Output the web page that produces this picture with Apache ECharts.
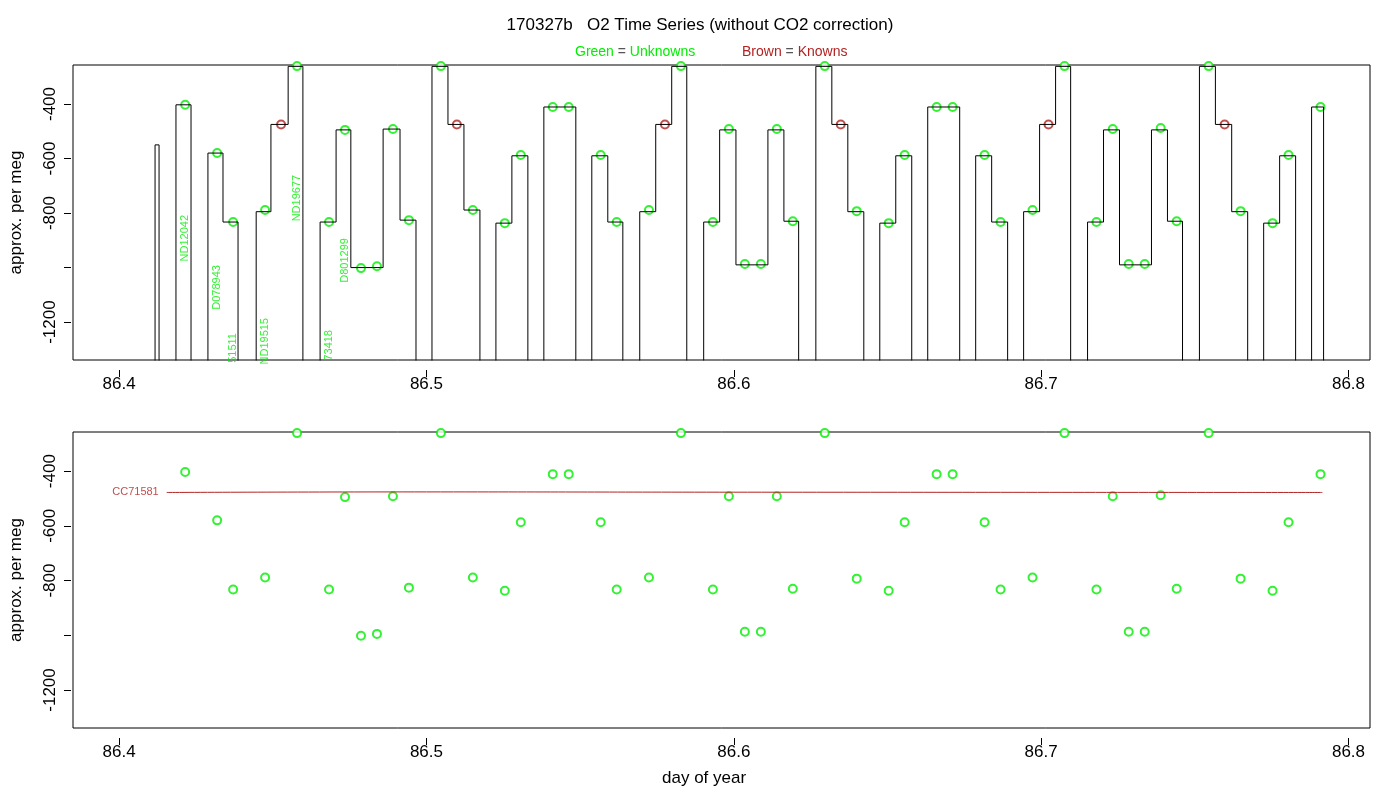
<!DOCTYPE html>
<html><head><meta charset="utf-8">
<script src="https://cdn.jsdelivr.net/npm/echarts@6/dist/echarts.min.js"></script>
<style>html,body{margin:0;background:#fff}#c{width:1400px;height:800px}</style>
</head><body><div id="c"></div>
<script>
// Trace runs: boundary times and plateau levels
const runTimes = [
 [86.4117,86.4130],[86.4185,86.4234],[86.4289,86.4338,86.4387],
 [86.4446,86.4494,86.4550,86.4598],
 [86.4654,86.4706,86.4754,86.4859,86.4914,86.4966],
 [86.5018,86.5070,86.5122,86.5174],[86.5226,86.5278,86.5330],[86.5382,86.5486],
 [86.5538,86.5590,86.5639],[86.5694,86.5746,86.5798,86.5847],
 [86.5902,86.5954,86.6007,86.6111,86.6163,86.6211],
 [86.6267,86.6319,86.6371,86.6423],[86.6475,86.6527,86.6579],[86.6631,86.6735],
 [86.6787,86.6839,86.6891],[86.6943,86.6995,86.7047,86.7096],
 [86.7151,86.7203,86.7255,86.7359,86.7411,86.7460],
 [86.7515,86.7567,86.7620,86.7672],[86.7724,86.7776,86.7828],[86.7880,86.7919]
];
const runLevels = [
 [-550],[-403],[-580,-833],[-795,-475,-262],[-833,-495,-1000,-492,-826],
 [-262,-475,-789],[-837,-590],[-411],[-590,-833],[-795,-475,-262],
 [-833,-495,-990,-495,-830],[-262,-475,-795],[-837,-590],[-411],[-590,-833],
 [-795,-475,-262],[-833,-495,-990,-495,-830],[-262,-475,-795],[-837,-590],[-411]
];
// Unknown sample results
const unkX = [86.4215,86.4319,86.4371,86.4475,86.4579,86.4683,86.4735,86.4787,86.4839,86.4891,86.4943,
 86.5047,86.5151,86.5255,86.5307,86.5411,86.5463,86.5567,86.5619,86.5724,86.5828,86.5932,86.5984,86.6036,
 86.6088,86.6140,86.6192,86.6296,86.6400,86.6504,86.6556,86.6660,86.6712,86.6816,86.6868,86.6972,86.7076,
 86.7180,86.7233,86.7285,86.7337,86.7389,86.7441,86.7545,86.7649,86.7753,86.7805,86.7909];
const unkY = [-403,-580,-833,-789,-261,-833,-495,-1002,-995,-492,-826,
 -261,-789,-837,-587,-411,-411,-587,-833,-789,-261,-833,-492,-987,
 -987,-492,-830,-261,-793,-837,-587,-411,-411,-587,-833,-789,-261,
 -833,-492,-987,-987,-488,-830,-261,-793,-837,-587,-411];
// Knowns
const knownX = [86.4527,86.5099,86.5776,86.6348,86.7024,86.7597];
const knownY = [-475,-475,-475,-475,-475,-475];
const refLineX = [86.4155,86.5000,86.6000,86.7915];
const refLineY = [-478,-476,-477,-478];
const refName = 'CC71581';
// Sample ID labels (first cycle)
const idText = ['ND12042','D078943','51511','ND19515','ND19677','73418','D801299'];
const idX = [86.4215,86.4319,86.4371,86.4475,86.4579,86.4683,86.4735];
const idY = [-807,-991,-1240,-1185,-660,-1229,-892];
const yLabelVals = [-1200,-800,-600,-400];
const yTickVals = [-1200,-1000,-800,-600,-400];
const xTickVals = [86.4,86.5,86.6,86.7,86.8];

const trace = [];
runTimes.forEach((t,i)=>{
  const lv = runLevels[i];
  trace.push([t[0],-2000]);
  lv.forEach((v,j)=>{ trace.push([t[j],v]); trace.push([t[j+1],v]); });
  trace.push([t[t.length-1],-2000]);
});
const zip=(a,b)=>a.map((v,i)=>[v,b[i]]);
const font='Liberation Sans, Arial, sans-serif';
const GREEN='#00ee00', BROWN='#b22222';
function xAx(gi){return {type:'value',gridIndex:gi,min:86.385,max:86.807,
  axisLine:{show:false},splitLine:{show:false},
  axisTick:{show:true,length:7,customValues:xTickVals,lineStyle:{color:'#000'}},
  axisLabel:{customValues:xTickVals,color:'#000',fontSize:17,fontFamily:font,margin:6,formatter:v=>v.toFixed(1)},
  offset:10};}
function yAx(gi){return {type:'value',gridIndex:gi,min:-1339,max:-257,name:'approx. per meg',nameLocation:'middle',nameGap:46,
  nameTextStyle:{color:'#000',fontSize:17,fontFamily:font},
  axisLine:{show:false},splitLine:{show:false},
  axisTick:{show:true,length:7,customValues:yTickVals,lineStyle:{color:'#000'}},
  axisLabel:{customValues:yLabelVals,rotate:90,color:'#000',fontSize:17,fontFamily:font,margin:12,formatter:v=>String(v)},offset:2};}
const circ={symbol:'emptyCircle',symbolSize:8};
const thin={borderWidth:1};
const opt={animation:false,
 title:[{text:'170327b   O2 Time Series (without CO2 correction)',left:'center',top:12,textStyle:{fontSize:17,fontWeight:'normal',color:'#000',fontFamily:font}}],
 graphic:[{type:'text',left:575,top:45,style:{text:'{g|Green} = {g|Unknowns}',rich:{g:{fill:GREEN,fontSize:14,fontFamily:font}},fill:'#555',fontSize:14,fontFamily:font}},
   {type:'text',left:742,top:45,style:{text:'{b|Brown} = {b|Knowns}',rich:{b:{fill:BROWN,fontSize:14,fontFamily:font}},fill:'#555',fontSize:14,fontFamily:font}},
   {type:'text',left:662,top:770,style:{text:'day of year',fill:'#000',fontSize:17,fontFamily:font}}],
 grid:[{left:72,right:30,top:65,height:295,show:true,borderColor:'#000',borderWidth:1},
       {left:72,right:30,top:432,height:296,show:true,borderColor:'#000',borderWidth:1}],
 xAxis:[xAx(0),xAx(1)],yAxis:[yAx(0),yAx(1)],
 series:[
  {type:'line',xAxisIndex:0,yAxisIndex:0,data:trace,showSymbol:false,clip:true,lineStyle:{color:'#000',width:1}},
  Object.assign({type:'scatter',xAxisIndex:0,yAxisIndex:0,data:zip(unkX,unkY),itemStyle:Object.assign({color:GREEN},thin)},circ),
  Object.assign({type:'scatter',xAxisIndex:0,yAxisIndex:0,data:zip(knownX,knownY),itemStyle:Object.assign({color:BROWN},thin)},circ),
  {type:'scatter',xAxisIndex:0,yAxisIndex:0,symbolSize:0,data:idText.map((t,i)=>({value:[idX[i],idY[i]],name:t})),
   label:{show:true,formatter:p=>p.name,rotate:90,align:'right',verticalAlign:'middle',position:'inside',color:GREEN,fontSize:11,fontFamily:font}},
  Object.assign({type:'scatter',xAxisIndex:1,yAxisIndex:1,data:zip(unkX,unkY),itemStyle:Object.assign({color:GREEN},thin)},circ),
  {type:'line',xAxisIndex:1,yAxisIndex:1,data:zip(refLineX,refLineY),showSymbol:false,smooth:true,lineStyle:{color:BROWN,width:1}},
  {type:'scatter',xAxisIndex:1,yAxisIndex:1,symbolSize:0,data:[{value:[refLineX[0],refLineY[0]],name:refName}],
   label:{show:true,formatter:p=>p.name,position:'left',distance:8,color:BROWN,fontSize:11,fontFamily:font}}
 ]};
echarts.init(document.getElementById('c')).setOption(opt);
</script></body></html>
